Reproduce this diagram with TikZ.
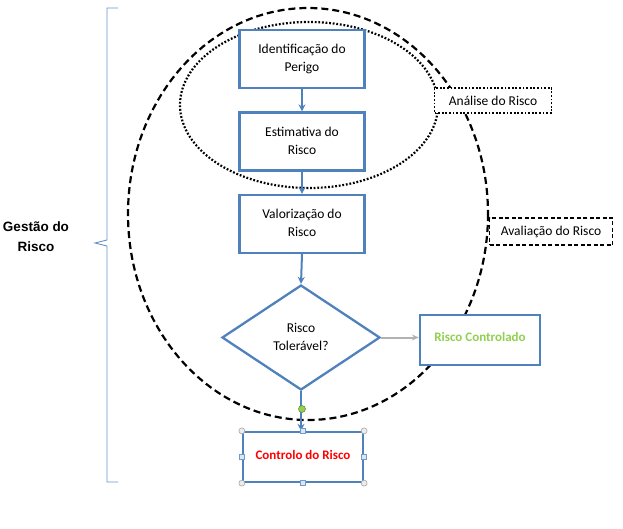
\documentclass[tikz,border=0pt]{standalone}
\usepackage{fontspec}
\setmainfont{Carlito}
\newfontfamily\arialfont{Liberation Sans}
\usetikzlibrary{shapes.geometric,arrows.meta}
\definecolor{obl}{HTML}{4F81BD}
\definecolor{ogreen}{HTML}{92D050}
\definecolor{ored}{HTML}{FF0000}
\newcommand{\twoline}[3][4pt]{\raisebox{#1}{\begin{tabular}{@{}c@{}}#2\\#3\end{tabular}}}
\begin{document}
\begin{tikzpicture}[x=1pt,y=-1pt,
  flowbox/.style={draw=obl,line width=2.3pt,minimum width=125pt,minimum height=58pt,inner sep=0pt,font=\fontsize{13.5}{18}\selectfont,fill=white},
  labbox/.style={draw=black,line width=1.8pt,align=center,font=\fontsize{13.5}{15}\selectfont,inner sep=2pt,fill=white},
  flowarrow/.style={draw=obl,line width=2pt,-{Stealth[length=7pt,width=7pt]}},
  handlec/.style={circle,draw=gray!70,fill=gray!15,line width=0.6pt,minimum size=6pt,inner sep=0pt},
  handles/.style={rectangle,draw=obl!80,fill=obl!20,line width=0.6pt,minimum size=5pt,inner sep=0pt}]
\useasboundingbox (0,0) rectangle (623,528);
% brace
\draw[obl!85,line width=0.9pt] (118,8) -- (107,8) -- (107,240) -- (95,243) -- (107,246) -- (107,482) -- (118,482);
\node[font=\arialfont\bfseries\fontsize{13.5}{20}\selectfont,align=center] (gestao) at (36,237) {Gestão do\\Risco};
% ellipses
\draw[line width=2.2pt,dash pattern=on 7pt off 4pt] (308,214) ellipse [x radius=180, y radius=206];
\draw[line width=2.2pt,dash pattern=on 1.8pt off 1.8pt] (309,105) ellipse [x radius=129, y radius=83];
% boxes
\node[flowbox] (b1) at (302,59) {\twoline{Identificação do}{Perigo}};
\node[flowbox] (b2) at (302,141.5) {\twoline{Estimativa do}{Risco}};
\node[flowbox] (b3) at (302,224) {\twoline{Valorização do}{Risco}};
\node[diamond,draw=obl,line width=2.3pt,minimum width=158pt,minimum height=105pt,inner sep=0pt,font=\fontsize{13.5}{18}\selectfont,fill=white,aspect=1.5] (d) at (301,337.5) {\twoline[3pt]{Risco}{Tolerável?}};
\node[draw=obl,line width=2.3pt,minimum width=120pt,minimum height=50pt,inner sep=0pt,fill=white,text=ogreen,font=\bfseries\fontsize{13}{15}\selectfont] (rc) at (480,340) {\raisebox{6pt}{Risco Controlado}};
\node[draw=obl,line width=2.3pt,minimum width=120pt,minimum height=50pt,inner sep=0pt,fill=white,text=ored,font=\bfseries\fontsize{13}{15}\selectfont] (cr) at (303,457) {\raisebox{4pt}{Controlo do Risco}};
% label boxes
\node[labbox,dash pattern=on 1.8pt off 1.8pt,minimum width=117pt,minimum height=25pt] (ana) at (493,100.5) {Análise do Risco};
\node[labbox,dash pattern=on 4pt off 2.5pt,minimum width=123pt,minimum height=27pt] (ava) at (551,231.5) {Avaliação do Risco};
% arrows
\draw[flowarrow] (b1.south) -- (b2.north);
\draw[flowarrow] (b2.south) -- (b3.north);
\draw[flowarrow] (b3.south) -- (d.north);
\draw[draw=gray!60,line width=2pt,-{Stealth[length=7pt,width=6pt,open]}] (d.east) -- (rc.west |- d.east);
\draw[flowarrow] (d.south) -- (d.south |- cr.north);
% selection handles
\node[circle,draw=ogreen!70!black,fill=ogreen,line width=0.6pt,minimum size=7pt,inner sep=0pt] (rot) at (302,409) {};
\node[handlec] (h1) at (cr.north west) {};
\node[handlec] (h2) at (cr.north east) {};
\node[handlec] (h3) at (cr.south west) {};
\node[handlec] (h4) at (cr.south east) {};
\node[handles] (h5) at (cr.north) {};
\node[handles] (h6) at (cr.south) {};
\node[handles] (h7) at (cr.west) {};
\node[handles] (h8) at (cr.east) {};
\end{tikzpicture}
\end{document}
